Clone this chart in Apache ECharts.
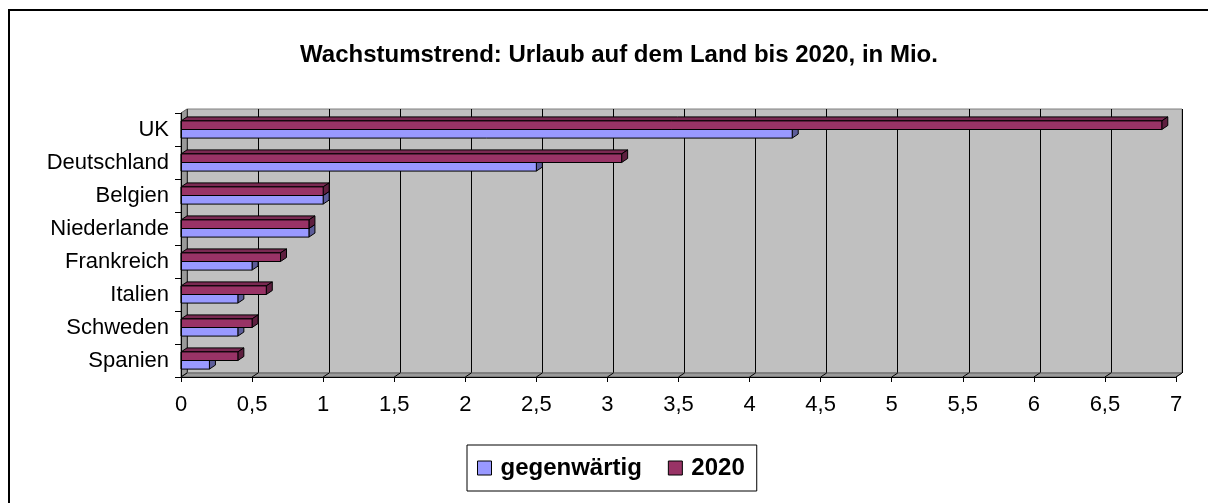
<!DOCTYPE html>
<html>
<head>
<meta charset="utf-8">
<script src="https://cdn.jsdelivr.net/npm/echarts@6/dist/echarts.min.js"></script>
<style>
html, body { margin: 0; padding: 0; background: #fff; }
#chart { width: 1208px; height: 503px; }
</style>
</head>
<body>
<div id="chart"></div>
<script>
var categories = ["UK", "Deutschland", "Belgien", "Niederlande", "Frankreich", "Italien", "Schweden", "Spanien"];
var gegenwaertig = [4.3, 2.5, 1.0, 0.9, 0.5, 0.4, 0.4, 0.2];
var jahr2020 = [6.9, 3.1, 1.0, 0.9, 0.7, 0.6, 0.5, 0.4];
var xMin = 0, xMax = 7, xStep = 0.5;

// front plane of the 3d plot and depth of the walls / bars
var plot = { left: 181, top: 113, right: 1176, bottom: 377 };
var depth = { x: 6, y: 4 };
var font = "'Liberation Sans', Arial, sans-serif";

var colBlue = { front: "#9999ff", top: "#7a7acc", side: "#5c5c99" };
var colRed = { front: "#993366", top: "#7a2952", side: "#5e1f3f" };

function bar3d(colors, upper) {
  return function (params, api) {
    var v = api.value(0), i = api.value(1);
    var start = api.coord([0, i]);
    var end = api.coord([v, i]);
    var band = api.size([0, 1])[1];
    var h = band * 0.26;
    var y0 = upper ? end[1] - h : end[1];
    var y1 = y0 + h;
    var x0 = start[0], x1 = end[0];
    var dx = depth.x, dy = depth.y;
    return {
      type: "group",
      children: [
        {
          type: "polygon",
          shape: { points: [[x0, y0], [x0 + dx, y0 - dy], [x1 + dx, y0 - dy], [x1, y0]] },
          style: { fill: colors.top, stroke: "#000", lineWidth: 1 }
        },
        {
          type: "polygon",
          shape: { points: [[x1, y0], [x1 + dx, y0 - dy], [x1 + dx, y1 - dy], [x1, y1]] },
          style: { fill: colors.side, stroke: "#000", lineWidth: 1 }
        },
        {
          type: "rect",
          shape: { x: x0, y: y0, width: x1 - x0, height: h },
          style: { fill: colors.front, stroke: "#000", lineWidth: 1 }
        }
      ]
    };
  };
}

var chart = echarts.init(document.getElementById("chart"));
var pw = plot.right - plot.left, ph = plot.bottom - plot.top;

// little slanted lines on the floor joining back-wall grid lines to the front ticks
var floorLines = [];
for (var k = 0; k <= (xMax - xMin) / xStep; k++) {
  var fx = plot.left + k * pw / ((xMax - xMin) / xStep);
  floorLines.push({
    type: "line",
    z: 2,
    shape: { x1: fx, y1: plot.bottom, x2: fx + depth.x, y2: plot.bottom - depth.y },
    style: { stroke: "#000", lineWidth: 1 }
  });
}

chart.setOption({
  animation: false,
  backgroundColor: "#fff",
  title: {
    text: "Wachstumstrend: Urlaub auf dem Land bis 2020, in Mio.",
    left: 614,
    textAlign: "center",
    top: 38,
    textStyle: { fontFamily: font, fontSize: 24, fontWeight: "bold", color: "#000" }
  },
  legend: {
    data: ["gegenwärtig", "2020"],
    left: 467,
    top: 445,
    padding: [11, 12, 11, 10],
    itemWidth: 14,
    itemHeight: 14,
    itemGap: 26,
    icon: "rect",
    borderColor: "#000",
    borderWidth: 1,
    itemStyle: { borderColor: "#000", borderWidth: 1 },
    textStyle: { fontFamily: font, fontSize: 24, fontWeight: "bold", color: "#000", padding: [0, 0, 0, 4] }
  },
  graphic: [
    {
      type: "rect",
      z: 0,
      shape: { x: 9, y: 10, width: 1230, height: 520 },
      style: { fill: "none", stroke: "#000", lineWidth: 2 }
    },
    {
      type: "polygon",
      z: 1,
      shape: { points: [[plot.left, plot.top], [plot.left + depth.x, plot.top - depth.y], [plot.left + depth.x, plot.bottom - depth.y], [plot.left, plot.bottom]] },
      style: { fill: "#9a9a9a", stroke: "#606060", lineWidth: 1 }
    },
    {
      type: "polygon",
      z: 1,
      shape: { points: [[plot.left, plot.bottom], [plot.left + depth.x, plot.bottom - depth.y], [plot.right + depth.x, plot.bottom - depth.y], [plot.right, plot.bottom]] },
      style: { fill: "#9a9a9a", stroke: "#606060", lineWidth: 1 }
    }
  ].concat(floorLines),
  grid: [
    {
      left: plot.left + depth.x, top: plot.top - depth.y, width: pw, height: ph,
      show: true, backgroundColor: "#c0c0c0", borderColor: "#808080", borderWidth: 1,
      containLabel: false, outerBoundsMode: "none"
    },
    {
      left: plot.left, top: plot.top, width: pw, height: ph,
      containLabel: false, outerBoundsMode: "none"
    }
  ],
  xAxis: [
    {
      gridIndex: 0, type: "value", min: xMin, max: xMax, interval: xStep,
      axisLine: { show: false }, axisTick: { show: false }, axisLabel: { show: false },
      splitLine: { show: true, lineStyle: { color: "#000", width: 1 } }
    },
    {
      gridIndex: 1, type: "value", min: xMin, max: xMax, interval: xStep, z: 5,
      axisLine: { show: true, lineStyle: { color: "#000", width: 1 } },
      axisTick: { show: true, length: 5, lineStyle: { color: "#000" } },
      splitLine: { show: false },
      axisLabel: {
        margin: 17, color: "#000", fontFamily: font, fontSize: 22,
        formatter: function (v) { return String(v).replace(".", ","); }
      }
    }
  ],
  yAxis: [
    {
      gridIndex: 0, type: "category", data: categories, inverse: true, show: false
    },
    {
      gridIndex: 1, type: "category", data: categories, inverse: true, z: 5,
      axisLine: { show: true, lineStyle: { color: "#000", width: 1 } },
      axisTick: { show: true, length: 6, lineStyle: { color: "#000" } },
      axisLabel: { margin: 12, color: "#000", fontFamily: font, fontSize: 22 }
    }
  ],
  series: [
    {
      name: "gegenwärtig",
      type: "custom",
      xAxisIndex: 1, yAxisIndex: 1,
      z: 3,
      itemStyle: { color: colBlue.front },
      encode: { x: 0, y: 1 },
      data: gegenwaertig.map(function (v, i) { return [v, i]; }),
      renderItem: bar3d(colBlue, false)
    },
    {
      name: "2020",
      type: "custom",
      xAxisIndex: 1, yAxisIndex: 1,
      z: 3,
      itemStyle: { color: colRed.front },
      encode: { x: 0, y: 1 },
      data: jahr2020.map(function (v, i) { return [v, i]; }),
      renderItem: bar3d(colRed, true)
    }
  ]
});
</script>
</body>
</html>
